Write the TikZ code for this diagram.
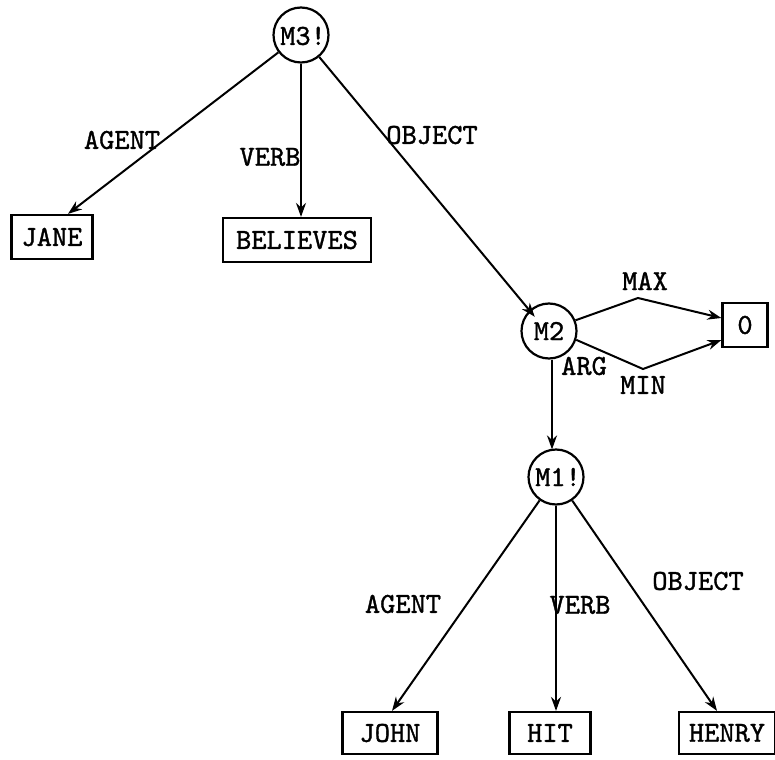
\documentclass[tikz,border=0pt]{standalone}
\usepackage{fontspec}
\newfontfamily\diagfont[FakeBold=1.2]{lmmono10-regular.otf}
\usetikzlibrary{arrows.meta,calc}
\begin{document}
\begin{tikzpicture}[x=1pt,y=-1pt,
  every node/.style={font=\fontsize{29}{32}\selectfont\diagfont},
  concept/.style={draw, circle, line width=2.2pt, minimum size=55pt, inner sep=0pt},
  atom/.style={draw, rectangle, line width=2.2pt, minimum height=44pt, inner sep=0pt},
  arc/.style={line width=2pt, -{Stealth[length=14pt,width=10pt]}},
  lbl/.style={inner sep=1pt}]
\useasboundingbox (0,0) rectangle (775,759);
% concept nodes
\node[concept] (m3) at (301,35) {};
\node (m3t) at (303,36) {M3!};
\node[concept] (m2) at (549,331) {};
\node (m2t) at (549,331) {M2};
\node[concept] (m1) at (556,477) {};
\node (m1t) at (558,477) {M1!};
% atoms
\node[atom, minimum width=81pt] (jane) at (52,237) {JANE};
\node[atom, minimum width=148pt] (believes) at (297,240) {BELIEVES};
\node[atom, minimum width=45pt, minimum height=44pt] (zero) at (745,325) {0};
\node[atom, minimum width=95pt, minimum height=42pt] (john) at (390,733) {JOHN};
\node[atom, minimum width=81pt, minimum height=42pt] (hit) at (550,733) {HIT};
\node[atom, minimum width=96pt, minimum height=42pt] (henry) at (727,733) {HENRY};
% arcs
\draw[arc] (m3) -- ($(jane.north)+(16,0)$);
\draw[arc] (m3.south) -- (m3.south |- believes.north);
\draw[arc] (m3) -- ($(m2.north west)+(6,6)$);
\draw[arc] (m2.22) -- (638,298) -- ($(zero.west)+(0,-7)$);
\draw[arc] (m2.-18) -- (643,369) -- ($(zero.west)+(0,15)$);
\draw[arc] ($(m2.south)+(3,0)$) -- ($(m2.south |- m1.north)+(3,1)$);
\draw[arc] (m1) -- ($(john.north)+(2,0)$);
\draw[arc] (m1.south) -- (m1.south |- hit.north);
\draw[arc] (m1) -- ($(henry.north)+(-10,0)$);
% labels
\node[lbl] (l1) at (122,140) {AGENT};
\node[lbl] (l2) at (270,157) {VERB};
\node[lbl] (l3) at (432,135) {OBJECT};
\node[lbl] (l4) at (645,281) {MAX};
\node[lbl] (l5) at (643,385) {MIN};
\node[lbl] (l6) at (584,366) {ARG};
\node[lbl] (l7) at (403,604) {AGENT};
\node[lbl] (l8) at (580,605) {VERB};
\node[lbl] (l9) at (698,581) {OBJECT};
\end{tikzpicture}
\end{document}
